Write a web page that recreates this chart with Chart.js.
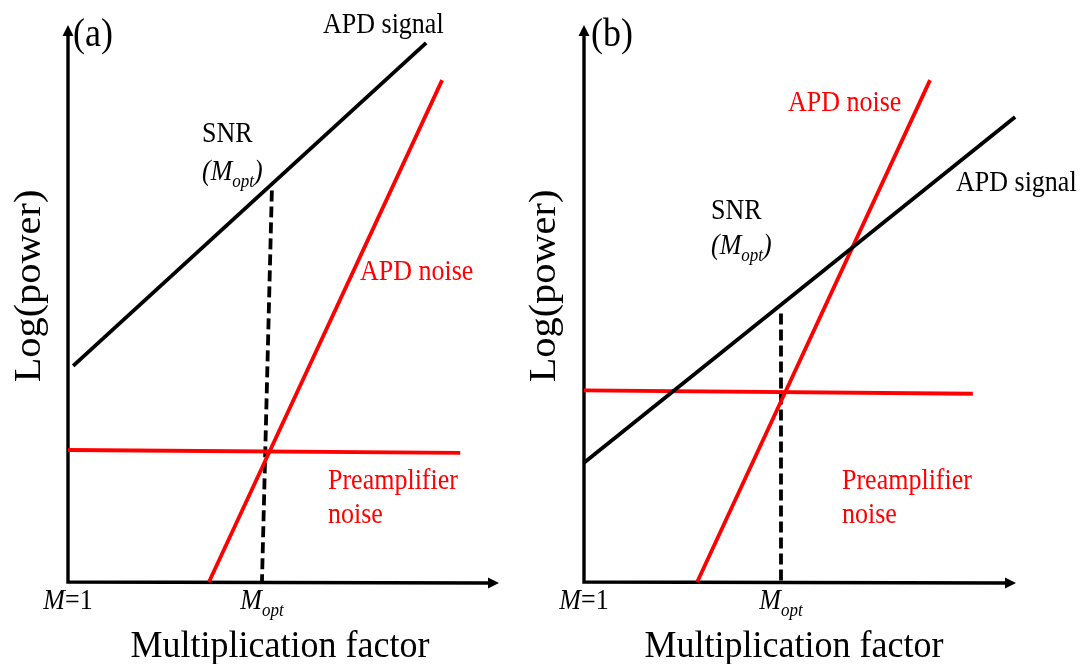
<!DOCTYPE html>
<html>
<head>
<meta charset="utf-8">
<script src="https://cdn.jsdelivr.net/npm/chart.js@4.4.1/dist/chart.umd.min.js"></script>
<style>
  html, body { margin: 0; padding: 0; background: #fff; }
  #wrap { position: relative; width: 1088px; height: 664px; overflow: hidden; }
  canvas { position: absolute; top: 0; }
  #chartA { left: 0; }
  #chartB { left: 520px; }
</style>
</head>
<body>
<div id="wrap">
  <canvas id="chartA" width="520" height="664"></canvas>
  <canvas id="chartB" width="568" height="664"></canvas>
</div>
<script>
// ---- values (log M on x, log power on y, arbitrary units 0..10) ----
// Panel (a)
const apdSignalA   = [{x: 0.12, y: 3.88}, {x: 8.31, y: 9.68}];
const apdNoiseA    = [{x: 3.27, y: 0.00}, {x: 8.68, y: 9.01}];
const preampNoiseA = [{x: 0.00, y: 2.37}, {x: 9.10, y: 2.32}];
const moptLineA    = [{x: 4.73, y: 7.03}, {x: 4.50, y: 0.00}];
// Panel (b)
const apdSignalB   = [{x: 0.00, y: 2.14}, {x: 9.98, y: 8.35}];
const apdNoiseB    = [{x: 2.62, y: 0.00}, {x: 8.01, y: 9.01}];
const preampNoiseB = [{x: 0.00, y: 3.44}, {x: 9.00, y: 3.38}];
const moptLineB    = [{x: 4.56, y: 4.82}, {x: 4.56, y: 0.00}];

const xRange = [0, 10];
const yRange = [0, 10];

// text pieces
const panelTags   = ['(a)', '(b)'];
const signalLabel = 'APD signal';
const noiseLabel  = 'APD noise';
const preampLabel = ['Preamplifier', 'noise'];
const snrLabel    = 'SNR';
const xTitle      = 'Multiplication factor';
const yTitle      = 'Log(power)';

const SERIF = '"Liberation Serif", "Times New Roman", "DejaVu Serif", serif';
const RED = '#ff0000';
const BLACK = '#000000';
const STRETCH = 1.1;   // glyphs are drawn slightly tall

// rich text: parts = [{t, it, sub}]
function drawRich(ctx, parts, x, y, size, color, align, stretch = STRETCH) {
  const subSize = Math.round(size * 0.66);
  const fontFor = p => `${p.it ? 'italic ' : ''}${p.sub ? subSize : size}px ${SERIF}`;
  let w = 0;
  parts.forEach(p => { ctx.font = fontFor(p); w += ctx.measureText(p.t).width; });
  let cx = align === 'center' ? -w / 2 : 0;
  ctx.save();
  ctx.translate(x, y);
  ctx.scale(1, stretch);
  ctx.fillStyle = color;
  ctx.textAlign = 'left';
  ctx.textBaseline = 'alphabetic';
  const base = size * 0.33;
  parts.forEach(p => {
    ctx.font = fontFor(p);
    ctx.fillText(p.t, cx, p.sub ? base + size * 0.24 : base);
    cx += ctx.measureText(p.t).width;
  });
  ctx.restore();
}

const mOne  = [{t: 'M', it: true}, {t: '=1'}];
const mOpt  = [{t: 'M', it: true}, {t: 'opt', it: true, sub: true}];
const snrM  = [{t: '(', it: true}, {t: 'M', it: true}, {t: 'opt', it: true, sub: true}, {t: ')', it: true}];

// axes with arrow heads, all drawn from the scales
const arrowAxes = {
  id: 'arrowAxes',
  beforeDatasetsDraw(chart) {
    const {ctx, chartArea: a, scales: {x, y}} = chart;
    const x0 = x.getPixelForValue(xRange[0]);
    const y0 = y.getPixelForValue(yRange[0]);
    const head = 11, half = 5.5;
    ctx.save();
    ctx.strokeStyle = BLACK;
    ctx.fillStyle = BLACK;
    ctx.lineWidth = 3.4;
    ctx.lineCap = 'butt';
    ctx.beginPath();
    ctx.moveTo(x0, y0 + 1.7);
    ctx.lineTo(x0, a.top + head - 1);
    ctx.moveTo(x0 - 1.7, y0);
    ctx.lineTo(a.right - head + 1, y0 + 1);
    ctx.stroke();
    ctx.beginPath();
    ctx.moveTo(x0, a.top);
    ctx.lineTo(x0 - half, a.top + head);
    ctx.lineTo(x0 + half, a.top + head);
    ctx.closePath();
    ctx.fill();
    ctx.beginPath();
    ctx.moveTo(a.right, y0 + 1);
    ctx.lineTo(a.right - head, y0 + 1 - half);
    ctx.lineTo(a.right - head, y0 + 1 + half);
    ctx.closePath();
    ctx.fill();
    ctx.restore();
  },
  afterDatasetsDraw(chart, args, o) {
    const {ctx, scales: {x, y}} = chart;
    ctx.save();
    // tick labels under the x axis
    const ty = y.getPixelForValue(yRange[0]) + 18;
    drawRich(ctx, mOne, x.getPixelForValue(xRange[0]), ty, 26, BLACK, 'center');
    drawRich(ctx, mOpt, x.getPixelForValue(o.moptX), ty, 26, BLACK, 'center');
    // panel tag
    drawRich(ctx, [{t: o.tag}], o.tagPos[0], o.tagPos[1], 36, BLACK, 'left');
    // curve labels
    o.labels.forEach(l => drawRich(ctx, l.parts, l.pos[0], l.pos[1], 26, l.color, 'left'));
    // axis titles
    drawRich(ctx, [{t: xTitle}], o.xTitlePos[0], o.xTitlePos[1], 36, BLACK, 'center', 1.05);
    ctx.translate(o.yTitlePos[0], o.yTitlePos[1]);
    ctx.rotate(-Math.PI / 2);
    ctx.scale(1.09, 1 / STRETCH);
    drawRich(ctx, [{t: yTitle}], 0, 0, 37, BLACK, 'center');
    ctx.restore();
  }
};

function lineSet(label, data, color, dashed) {
  return {
    label, data, showLine: true, borderColor: color, backgroundColor: color,
    borderWidth: 3.8, borderDash: dashed ? [11, 5] : [],
    pointRadius: 0, pointHoverRadius: 0, clip: false, tension: 0
  };
}

function makeChart(id, sets, padding, opts) {
  return new Chart(document.getElementById(id), {
    type: 'scatter',
    data: { datasets: sets },
    options: {
      responsive: false, animation: false, devicePixelRatio: 1,
      layout: { padding },
      scales: {
        x: { type: 'linear', min: xRange[0], max: xRange[1], display: false },
        y: { type: 'linear', min: yRange[0], max: yRange[1], display: false }
      },
      plugins: { legend: { display: false }, tooltip: { enabled: false }, arrowAxes: opts },
      events: []
    },
    plugins: [arrowAxes]
  });
}

makeChart('chartA', [
  lineSet('Preamplifier noise', preampNoiseA, RED),
  lineSet('APD noise', apdNoiseA, RED),
  lineSet('M opt', moptLineA, BLACK, true),
  lineSet('APD signal', apdSignalA, BLACK)
], {left: 68, right: 21, top: 25, bottom: 82}, {
  tag: panelTags[0], tagPos: [73, 33], moptX: moptLineA[1].x,
  labels: [
    {parts: [{t: signalLabel}], pos: [323, 24], color: BLACK},
    {parts: [{t: snrLabel}], pos: [202, 133], color: BLACK},
    {parts: snrM, pos: [202, 171], color: BLACK},
    {parts: [{t: noiseLabel}], pos: [360, 271], color: RED},
    {parts: [{t: preampLabel[0]}], pos: [328, 480], color: RED},
    {parts: [{t: preampLabel[1]}], pos: [328, 514], color: RED}
  ],
  xTitlePos: [280, 645], yTitlePos: [28, 286]
});

makeChart('chartB', [
  lineSet('APD signal', apdSignalB, BLACK),
  lineSet('Preamplifier noise', preampNoiseB, RED),
  lineSet('APD noise', apdNoiseB, RED),
  lineSet('M opt', moptLineB, BLACK, true)
], {left: 64, right: 72, top: 25, bottom: 82}, {
  tag: panelTags[1], tagPos: [71, 33], moptX: moptLineB[1].x,
  labels: [
    {parts: [{t: noiseLabel}], pos: [268, 102], color: RED},
    {parts: [{t: signalLabel}], pos: [436, 182], color: BLACK},
    {parts: [{t: snrLabel}], pos: [191, 210], color: BLACK},
    {parts: snrM, pos: [191, 245], color: BLACK},
    {parts: [{t: preampLabel[0]}], pos: [322, 480], color: RED},
    {parts: [{t: preampLabel[1]}], pos: [322, 514], color: RED}
  ],
  xTitlePos: [274, 645], yTitlePos: [23, 286]
});
</script>
</body>
</html>
